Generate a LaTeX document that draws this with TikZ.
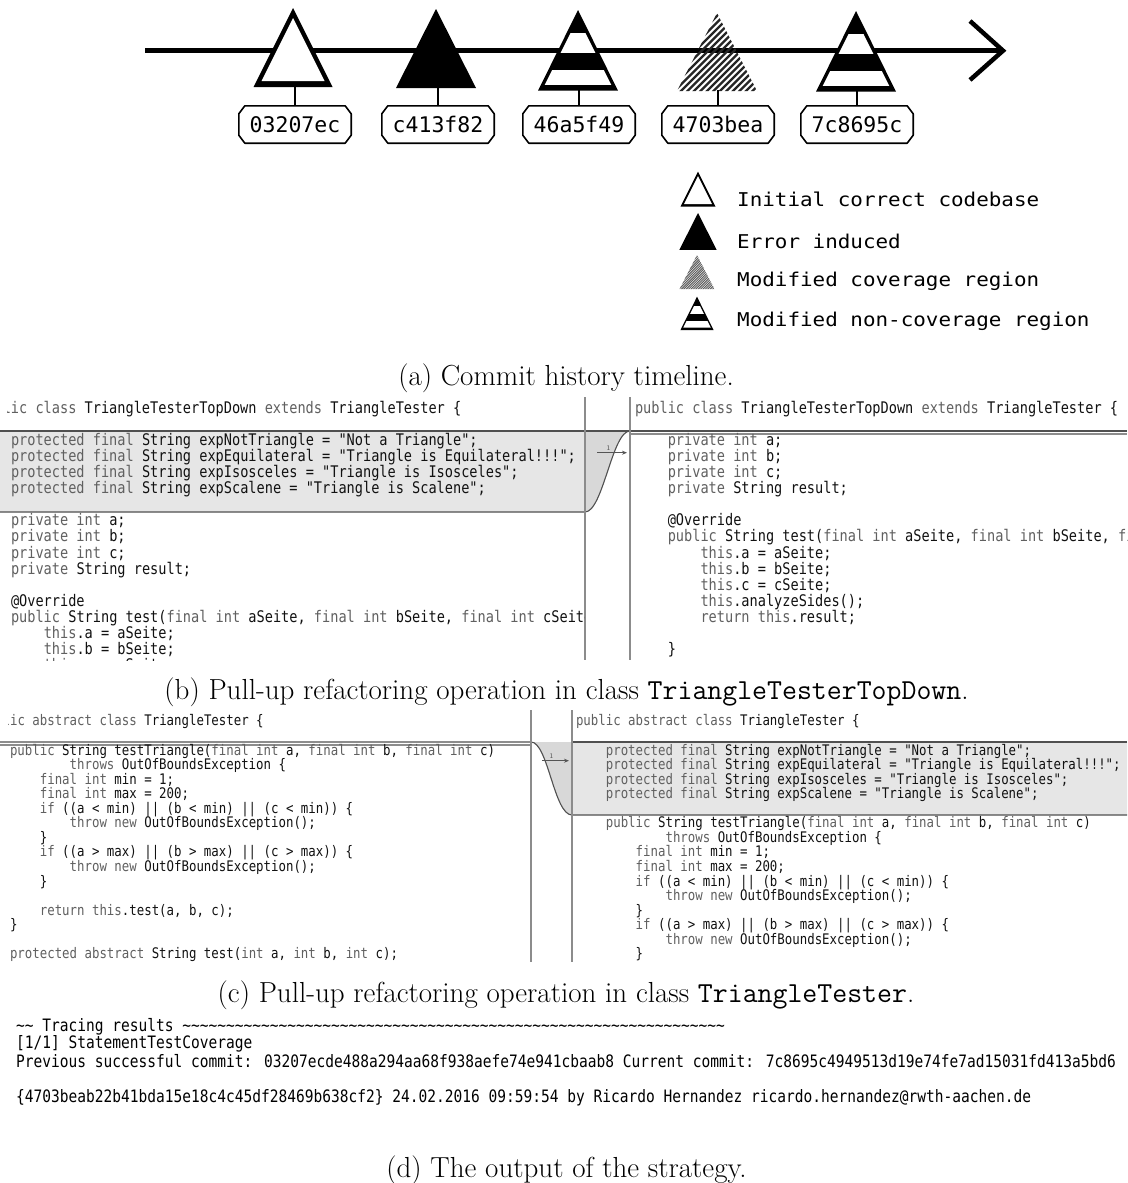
\documentclass[tikz,border=0pt]{standalone}
\usepackage{fontspec}
\usetikzlibrary{arrows.meta}
\newfontfamily\codefont{DejaVu Sans Mono}[FakeStretch=0.85]
\newfontfamily\hashfont{DejaVu Sans Mono}
\newfontfamily\legendfont{DejaVu Sans Mono}[FakeStretch=1.1]
\definecolor{kwgray}{HTML}{606060}
\definecolor{idblack}{HTML}{111111}
\definecolor{difflight}{HTML}{E6E6E6}
\definecolor{banddark}{HTML}{D8D8D8}
\definecolor{gutgray}{HTML}{8C8C8C}
\definecolor{rulegray}{HTML}{505050}
\definecolor{arrgray}{HTML}{555555}
\definecolor{hatchgray}{HTML}{5F5F5F}

% code typesetting helpers
\newcommand\kw[1]{\textcolor{kwgray}{#1}}
\newcommand\ind{\hphantom{0000}}
\newcommand\cl[1]{\hbox{#1}}
\newcommand\codelines[2]{\vtop{\baselineskip=#1\lineskiplimit=-100pt\lineskip=0pt\relax #2}}
\newcount\wavecount
\newcommand\wave[1]{\wavecount=0\relax\loop\ifnum\wavecount<#1\relax\textasciitilde\advance\wavecount by 1\relax\repeat}

% commit markers, drawn from the apex down
\newcommand\whitetri[3]{%
  \begin{scope}[shift={(#1,#2)},scale=#3]
    \fill[black] (0,0) -- (39.5,79) -- (-39.5,79) -- cycle;
    \fill[white] (0,10) -- (31.5,73) -- (-31.5,73) -- cycle;
  \end{scope}}
\newcommand\blacktri[3]{%
  \begin{scope}[shift={(#1,#2)},scale=#3]
    \fill[black] (0,0) -- (40,79) -- (-40,79) -- cycle;
  \end{scope}}
\newcommand\stripetri[3]{%
  \begin{scope}[shift={(#1,#2)},scale=#3]
    \fill[black] (0,0) -- (40,80.7) -- (-40,80.7) -- cycle;
    \begin{scope}
      \clip (0,7.9) -- (33.3,75) -- (-33.3,75) -- cycle;
      \fill[white] (-40,23) rectangle (40,43);
      \fill[white] (-40,60) rectangle (40,75);
    \end{scope}
  \end{scope}}
% args: apex x, apex y, scale, hatch period, line width, colour
\newcommand\hatchtri[6]{%
  \begin{scope}[shift={(#1,#2)},scale=#3]
    \clip (0,0) -- (40,78) -- (-40,78) -- cycle;
    \foreach \s in {-22,...,8} \draw[#6, line width=#5pt] ({#4*\s},81) -- ++(84,-84);
  \end{scope}}

\tikzset{
  hashbox/.style={rectangle, inner sep=0, minimum width=112pt, minimum height=37pt,
    font=\hashfont\fontsize{21.5}{21.5}\selectfont},
  legendtext/.style={anchor=base west, inner sep=0, font=\legendfont\fontsize{19}{19}\selectfont},
  captiontext/.style={anchor=base, inner sep=0, font=\fontsize{29}{33}\selectfont},
  codeblk/.style={anchor=base west, inner sep=0, outer sep=0, text=idblack},
  outtext/.style={anchor=base west, inner sep=0, font=\codefont\fontsize{17.1}{17.1}\selectfont},
  gutter/.style={draw=gutgray, line width=1.1pt},
  ruleln/.style={draw=rulegray, line width=1.1pt},
  diffarrow/.style={draw=arrgray, line width=1pt, -{Stealth[length=5pt,width=4pt]}},
  difflabel/.style={inner sep=0, font=\sffamily\fontsize{7}{7}\selectfont, text=arrgray},
}

\begin{document}
\begin{tikzpicture}[x=1pt,y=-1pt]
\useasboundingbox (0,0) rectangle (1127,1183);
\fill[white] (0,0) rectangle (1127,1183);

% ---------------- (a) commit timeline ----------------
\coordinate (tlS) at (145,50.7);
\coordinate (tlE) at (1003,50.7);
\coordinate (tlU) at (970,21);
\coordinate (tlD) at (970,80);
\draw[line width=4.5pt] (tlS) -- (tlE);
\draw[line width=4.5pt, line join=miter] (tlU) -- (tlE) -- (tlD);

\whitetri{293}{8}{1}
\blacktri{436}{9}{1}
\stripetri{578}{10}{1}
\hatchtri{717}{13}{1}{6.5}{2.4}{black!85}
\stripetri{856}{11}{1}

\node[hashbox] (c1) at (295,124.5) {03207ec};
\node[hashbox] (c2) at (438,124.5) {c413f82};
\node[hashbox] (c3) at (579,124.5) {46a5f49};
\node[hashbox] (c4) at (718,124.5) {4703bea};
\node[hashbox] (c5) at (857,124.5) {7c8695c};
\coordinate (t1) at (295,87);
\coordinate (t2) at (438,87);
\coordinate (t3) at (579,89);
\coordinate (t4) at (718,90);
\coordinate (t5) at (857,90);
\foreach \i in {1,...,5} {
  \draw[line width=2pt] (t\i) -- (c\i.north);
  \draw[line width=1.6pt, line join=round]
    ([xshift=6pt]c\i.north west) -- ([xshift=-6pt]c\i.north east)
    -- ([yshift=-8pt]c\i.north east) -- ([yshift=8pt]c\i.south east)
    -- ([xshift=-6pt]c\i.south east) -- ([xshift=6pt]c\i.south west)
    -- ([yshift=8pt]c\i.south west) -- ([yshift=-8pt]c\i.north west) -- cycle;
}

% legend
\whitetri{698}{171.7}{0.443}
\blacktri{698}{213}{0.468}
\hatchtri{697}{255}{0.436}{5.5}{1}{hatchgray}
\stripetri{697}{296.7}{0.413}
\node[legendtext] (leg1) at (737,206) {Initial correct codebase};
\node[legendtext] (leg2) at (737,248) {Error induced};
\node[legendtext] (leg3) at (737,286) {Modified coverage region};
\node[legendtext] (leg4) at (737,326.5) {Modified non-coverage region};

\node[captiontext] (capa) at (566,385) {(a) Commit history timeline.};

% ---------------- (b) pull-up in TriangleTesterTopDown ----------------
\fill[difflight] (0,431) -- (630,431) .. controls (612,431) and (603,512) .. (585,512) -- (0,512) -- cycle;
\begin{scope}
  \clip (585,420) rectangle (630,520);
  \fill[banddark] (0,431) -- (630,431) .. controls (612,431) and (603,512) .. (585,512) -- (0,512) -- cycle;
\end{scope}
\draw[ruleln] (0,431) -- (1127,431);
\draw[ruleln, draw=gutgray] (630,434) -- (1127,434);
\draw[ruleln] (0,512) -- (585,512) .. controls (603,512) and (612,431) .. (630,431);
\draw[gutter] (585,397) -- (585,660);
\draw[gutter] (630,397) -- (630,660);
\coordinate (bArrS) at (597,452.7);
\coordinate (bArrE) at (627,452.7);
\draw[diffarrow] (bArrS) -- node[difflabel, pos=0.38, above=1.5pt] (bNum) {1} (bArrE);

\begin{scope}
  \clip (7,397) rectangle (584.5,660);
  \node[codeblk] (bLhead) at (-21.8,413) {\codefont\fontsize{16}{16}\selectfont
    \kw{public class} TriangleTesterTopDown \kw{extends} TriangleTester \{};
  \node[codeblk] (bLbody) at (11,445.5) {\codefont\fontsize{16}{16}\selectfont\codelines{16.08pt}{%
    \cl{\kw{protected final} String expNotTriangle = "Not a Triangle";}
    \cl{\kw{protected final} String expEquilateral = "Triangle is Equilateral!!!";}
    \cl{\kw{protected final} String expIsosceles = "Triangle is Isosceles";}
    \cl{\kw{protected final} String expScalene = "Triangle is Scalene";}
    \cl{}
    \cl{\kw{private int} a;}
    \cl{\kw{private int} b;}
    \cl{\kw{private int} c;}
    \cl{\kw{private} String result;}
    \cl{}
    \cl{@Override}
    \cl{\kw{public} String test(\kw{final int} aSeite, \kw{final int} bSeite, \kw{final int} cSeite) \{}
    \cl{\ind\kw{this}.a = aSeite;}
    \cl{\ind\kw{this}.b = bSeite;}
    \cl{\ind\kw{this}.c = cSeite;}}};
\end{scope}
\begin{scope}
  \clip (631,397) rectangle (1127,660);
  \node[codeblk] (bRhead) at (635,413) {\codefont\fontsize{16}{16}\selectfont
    \kw{public class} TriangleTesterTopDown \kw{extends} TriangleTester \{};
  \node[codeblk] (bRbody) at (635,445.5) {\codefont\fontsize{16}{16}\selectfont\codelines{16.08pt}{%
    \cl{\ind\kw{private int} a;}
    \cl{\ind\kw{private int} b;}
    \cl{\ind\kw{private int} c;}
    \cl{\ind\kw{private} String result;}
    \cl{}
    \cl{\ind @Override}
    \cl{\ind\kw{public} String test(\kw{final int} aSeite, \kw{final int} bSeite, \kw{final int} cSeite) \{}
    \cl{\ind\ind\kw{this}.a = aSeite;}
    \cl{\ind\ind\kw{this}.b = bSeite;}
    \cl{\ind\ind\kw{this}.c = cSeite;}
    \cl{\ind\ind\kw{this}.analyzeSides();}
    \cl{\ind\ind\kw{return this}.result;}
    \cl{}
    \cl{\ind\}}}};
\end{scope}

\node[captiontext] (capb) at (566.5,699) {(b) Pull-up refactoring operation in class {\ttfamily TriangleTesterTopDown}.};

% ---------------- (c) pull-up in TriangleTester ----------------
\fill[difflight] (531,742) -- (1127,742) -- (1127,815) -- (572,815) .. controls (554,815) and (548,742) .. (531,742) -- cycle;
\begin{scope}
  \clip (531,730) rectangle (572,820);
  \fill[banddark] (531,742) -- (1127,742) -- (1127,815) -- (572,815) .. controls (554,815) and (548,742) .. (531,742) -- cycle;
\end{scope}
\draw[ruleln] (0,742) -- (531,742) .. controls (548,742) and (554,815) .. (572,815) -- (1127,815);
\draw[ruleln, draw=gutgray] (0,745) -- (531,745);
\draw[ruleln] (572,742) -- (1127,742);
\draw[gutter] (531,710) -- (531,962);
\draw[gutter] (572,710) -- (572,962);
\coordinate (cArrS) at (542,760.7);
\coordinate (cArrE) at (569,760.7);
\draw[diffarrow] (cArrS) -- node[difflabel, pos=0.35, above=1.5pt] (cNum) {1} (cArrE);

\begin{scope}
  \clip (8,710) rectangle (530,962);
  \node[codeblk] (cLhead) at (-19.8,725.5) {\codefont\fontsize{14.58}{14.58}\selectfont
    \kw{public abstract class} TriangleTester \{};
  \node[codeblk] (cLbody) at (10,755) {\codefont\fontsize{14.58}{14.58}\selectfont\codelines{14.57pt}{%
    \cl{\kw{public} String testTriangle(\kw{final int} a, \kw{final int} b, \kw{final int} c)}
    \cl{\ind\ind\kw{throws} OutOfBoundsException \{}
    \cl{\ind\kw{final int} min = 1;}
    \cl{\ind\kw{final int} max = 200;}
    \cl{\ind\kw{if} ((a < min) || (b < min) || (c < min)) \{}
    \cl{\ind\ind\kw{throw new} OutOfBoundsException();}
    \cl{\ind\}}
    \cl{\ind\kw{if} ((a > max) || (b > max) || (c > max)) \{}
    \cl{\ind\ind\kw{throw new} OutOfBoundsException();}
    \cl{\ind\}}
    \cl{}
    \cl{\ind\kw{return this}.test(a, b, c);}
    \cl{\}}
    \cl{}
    \cl{\kw{protected abstract} String test(\kw{int} a, \kw{int} b, \kw{int} c);}}};
\end{scope}
\begin{scope}
  \clip (573,710) rectangle (1127,962);
  \node[codeblk] (cRhead) at (576,725.5) {\codefont\fontsize{14.58}{14.58}\selectfont
    \kw{public abstract class} TriangleTester \{};
  \node[codeblk] (cRbody) at (576,755) {\codefont\fontsize{14.58}{14.58}\selectfont\codelines{14.57pt}{%
    \cl{\ind\kw{protected final} String expNotTriangle = "Not a Triangle";}
    \cl{\ind\kw{protected final} String expEquilateral = "Triangle is Equilateral!!!";}
    \cl{\ind\kw{protected final} String expIsosceles = "Triangle is Isosceles";}
    \cl{\ind\kw{protected final} String expScalene = "Triangle is Scalene";}
    \cl{}
    \cl{\ind\kw{public} String testTriangle(\kw{final int} a, \kw{final int} b, \kw{final int} c)}
    \cl{\ind\ind\ind\kw{throws} OutOfBoundsException \{}
    \cl{\ind\ind\kw{final int} min = 1;}
    \cl{\ind\ind\kw{final int} max = 200;}
    \cl{\ind\ind\kw{if} ((a < min) || (b < min) || (c < min)) \{}
    \cl{\ind\ind\ind\kw{throw new} OutOfBoundsException();}
    \cl{\ind\ind\}}
    \cl{\ind\ind\kw{if} ((a > max) || (b > max) || (c > max)) \{}
    \cl{\ind\ind\ind\kw{throw new} OutOfBoundsException();}
    \cl{\ind\ind\}}}};
\end{scope}

\node[captiontext] (capc) at (566,1002) {(c) Pull-up refactoring operation in class {\ttfamily TriangleTester}.};

% ---------------- (d) tool output ----------------
\node[outtext] (d1) at (16,1031) {\textasciitilde\textasciitilde{} Tracing results \wave{62}};
\node[outtext] (d2) at (16,1048) {[1/1] StatementTestCoverage};
\node[outtext] (d3) at (16,1067) {Previous successful commit: 03207ecde488a294aa68f938aefe74e941cbaab8 Current commit: 7c8695c4949513d19e74fe7ad15031fd413a5bd6};
\node[outtext] (d4) at (16,1102) {\{4703beab22b41bda15e18c4c45df28469b638cf2\} 24.02.2016 09:59:54 by Ricardo Hernandez ricardo.hernandez@rwth-aachen.de};

\node[captiontext] (capd) at (566.5,1177) {(d) The output of the strategy.};
\end{tikzpicture}
\end{document}
